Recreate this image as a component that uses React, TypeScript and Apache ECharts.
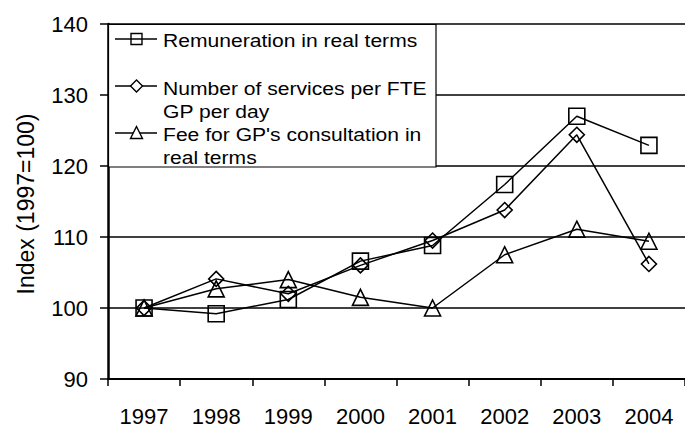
import React, { useEffect, useRef } from "react";
import * as echarts from "echarts";

const years = ["1997", "1998", "1999", "2000", "2001", "2002", "2003", "2004"];
const remuneration = [100, 99.2, 101.2, 106.6, 108.8, 117.4, 127.0, 122.9];
const services = [100, 104.1, 102.0, 106.0, 109.5, 113.8, 124.4, 106.2];
const fee = [100, 102.7, 104.0, 101.5, 100.0, 107.5, 111.1, 109.4];
const yTicks = { min: 90, max: 140, interval: 10 };
const legendRows = [
  ["Remuneration in real terms"],
  ["Number of services per FTE", "GP per day"],
  ["Fee for GP's consultation in", "real terms"],
];
const yName = "Index (1997=100)";

const FONT = "'Liberation Sans', Arial, sans-serif";

export default function App() {
  const ref = useRef<HTMLDivElement>(null);
  useEffect(() => {
    if (!ref.current) return;
    const chart = echarts.init(ref.current, null, { renderer: "svg" });
    const mk = (name: string, data: number[], symbol: string, size: number) => ({
      name,
      type: "line",
      data,
      symbol,
      symbolSize: size,
      showSymbol: true,
      lineStyle: { color: "#000", width: 1.5 },
      itemStyle: { color: "rgba(0,0,0,0)", borderColor: "#000", borderWidth: 1.6 },
      emphasis: { disabled: true },
      z: 3,
    });
    const rowY = [39, 86, 133];
    const textY = [[40], [88, 111], [134, 157]];
    const graphics: any[] = [
      {
        type: "rect",
        z: 100,
        shape: { x: 108.5, y: 24.5, width: 327.5, height: 142.5 },
        style: { fill: "#fff", stroke: "#000", lineWidth: 1.2 },
      },
    ];
    rowY.forEach((y, i) => {
      graphics.push({
        type: "line",
        z: 101,
        shape: { x1: 115, y1: y, x2: 157, y2: y },
        style: { stroke: "#000", lineWidth: 1.3 },
      });
      if (i === 0) {
        graphics.push({
          type: "rect",
          z: 102,
          shape: { x: 131, y: y - 5.5, width: 11, height: 11 },
          style: { fill: "none", stroke: "#000", lineWidth: 1.4 },
        });
      } else if (i === 1) {
        graphics.push({
          type: "polygon",
          z: 102,
          shape: { points: [[136.5, y - 6], [142.5, y], [136.5, y + 6], [130.5, y]] },
          style: { fill: "#fff", stroke: "#000", lineWidth: 1.4 },
        });
      } else {
        graphics.push({
          type: "polygon",
          z: 102,
          shape: { points: [[136.5, y - 6.5], [142.5, y + 5.5], [130.5, y + 5.5]] },
          style: { fill: "#fff", stroke: "#000", lineWidth: 1.4 },
        });
      }
      legendRows[i].forEach((t, j) => {
        graphics.push({
          type: "text",
          z: 102,
          x: 163,
          y: textY[i][j],
          scaleX: 1.14,
          style: {
            text: t,
            fontSize: 18.5,
            fontFamily: FONT,
            fill: "#000",
            align: "left",
            verticalAlign: "middle",
          },
        });
      });
    });
    graphics.push({
      type: "text",
      z: 102,
      x: 26,
      y: 204,
      rotation: Math.PI / 2,
      style: {
        text: yName,
        fontSize: 23,
        fontFamily: FONT,
        fill: "#000",
        align: "center",
        verticalAlign: "middle",
      },
    });

    chart.setOption({
      animation: false,
      backgroundColor: "#fff",
      grid: { left: 108, top: 24, width: 583, height: 356, containLabel: false },
      xAxis: {
        type: "category",
        data: years,
        boundaryGap: true,
        axisLine: { lineStyle: { color: "#000", width: 2 } },
        axisTick: { show: true, interval: 0, length: 7, alignWithLabel: false, lineStyle: { color: "#000", width: 1.5 } },
        axisLabel: { fontSize: 22, fontFamily: FONT, color: "#000", margin: 26, interval: 0 },
        splitLine: { show: false },
      },
      yAxis: {
        type: "value",
        min: yTicks.min,
        max: yTicks.max,
        interval: yTicks.interval,
        axisLine: { show: true, lineStyle: { color: "#000", width: 2.5 } },
        axisTick: { show: true, length: 8, lineStyle: { color: "#000", width: 1.5 } },
        axisLabel: { fontSize: 22, fontFamily: FONT, color: "#000", margin: 20 },
        splitLine: { show: true, lineStyle: { color: "#000", width: 1.5 } },
      },
      series: [
        mk("Remuneration in real terms", remuneration, "rect", 16),
        mk("Number of services per FTE GP per day", services, "diamond", 15),
        mk("Fee for GP's consultation in real terms", fee, "triangle", 16),
      ],
      graphic: graphics,
    });
    return () => chart.dispose();
  }, []);
  return (
    <div
      ref={ref}
      style={{ position: "absolute", left: 0, top: 0, width: 685, height: 427 }}
    />
  );
}
